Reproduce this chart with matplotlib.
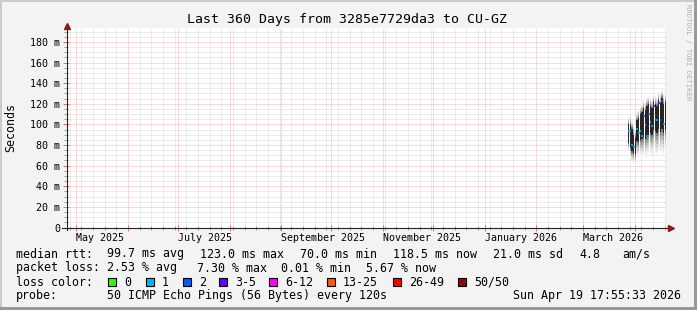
import datetime as dt
import matplotlib
matplotlib.use('Agg')
import matplotlib.pyplot as plt
import matplotlib.dates as mdates
from matplotlib.ticker import MultipleLocator, FuncFormatter
from matplotlib.patches import Rectangle

W, H = 697, 310

# graph span: last 360 days up to the render time
t_end = dt.datetime(2026, 4, 19, 17, 55, 33)
t_start = t_end - dt.timedelta(days=360)

# consolidated steps (one per day) where data exists
dates = ['2026-03-28', '2026-03-29', '2026-03-30', '2026-03-31', '2026-04-01',
         '2026-04-02', '2026-04-03', '2026-04-04', '2026-04-05', '2026-04-06',
         '2026-04-07', '2026-04-08', '2026-04-09', '2026-04-10', '2026-04-11',
         '2026-04-12', '2026-04-13', '2026-04-14', '2026-04-15', '2026-04-16',
         '2026-04-17', '2026-04-18', '2026-04-19']
# rtt in ms
ping_min = [74, 68, 64, 62, 60, 70, 68, 70, 68, 70, 68, 70, 72, 72, 70, 74, 72, 70, 74, 72, 74, 70, 72]
core_lo = [82, 78, 74, 72, 70, 84, 83, 85, 86, 88, 86, 88, 90, 92, 90, 95, 94, 92, 96, 93, 96, 92, 95]
core_hi = [100, 99, 96, 90, 88, 104, 106, 110, 112, 116, 114, 118, 120, 118, 116, 122, 120, 118, 124, 121, 126, 120, 122]
ping_max = [108, 112, 104, 100, 98, 112, 116, 118, 120, 124, 122, 126, 128, 126, 124, 130, 128, 126, 132, 130, 133, 130, 130]
median = [94, 94, 80, 78, 70, 96, 92, 94, 89, 108, 99, 89, 110, 102, 98, 118, 105, 104, 121, 104, 123, 100, 118.5]
lost = [1, 1, 1, 1, 1, 1, 1, 1, 1, 2, 1, 1, 2, 1, 1, 3, 2, 1, 3, 2, 2, 1, 3]

loss_labels = ['0', '1', '2', '3-5', '6-12', '13-25', '26-49', '50/50']
loss_colors = ['#26ff00', '#00b8ff', '#0059ff', '#6a00ff', '#ff00ff', '#ff5500', '#ff0000', '#a10000']
loss_bins = [0, 1, 2, 5, 12, 25, 49, 50]

legend_rows = [
    ('median rtt:', [('99.7 ms avg', 107), ('123.0 ms max', 200), ('70.0 ms min', 300),
                     ('118.5 ms now', 393), ('21.0 ms sd', 493), ('4.8', 579), ('am/s', 622)]),
    ('packet loss:', [('2.53 % avg', 107), ('7.30 % max', 197), ('0.01 % min', 281),
                      ('5.67 % now', 366)]),
]
probe_text = '50 ICMP Echo Pings (56 Bytes) every 120s'
stamp_text = 'Sun Apr 19 17:55:33 2026'
title = 'Last 360 Days from 3285e7729da3 to CU-GZ'

plt.rcParams['font.family'] = ['DejaVu Sans Mono']


def loss_color(n):
    for b, c in zip(loss_bins, loss_colors):
        if n <= b:
            return c
    return loss_colors[-1]


def px_text(x, y, s, **kw):
    kw.setdefault('fontsize', 8.4)
    kw.setdefault('va', 'center')
    kw.setdefault('ha', 'left')
    fig.text(x / W, 1 - y / H, s, **kw)


fig = plt.figure(figsize=(W / 100, H / 100), dpi=100)
fig.patch.set_facecolor('#f3f3f3')
ax = fig.add_axes([66 / W, (H - 227.5) / H, 600 / W, 200 / H])
ax.set_facecolor('white')

t = [dt.datetime.strptime(d, '%Y-%m-%d') for d in dates]
step = dt.timedelta(days=1)
bar_w = dt.timedelta(hours=18)

# smoke: lower tail fading in, dark core, upper tail fading out
n = 6
shades = ['#f4f4f4', '#e6e6e6', '#d4d4d4', '#bdbdbd', '#a2a2a2', '#7e7e7e']
for k in range(n):
    bottoms = [a + (b - a) * k / n for a, b in zip(ping_min, core_lo)]
    heights = [(b - a) / n for a, b in zip(ping_min, core_lo)]
    ax.bar(t, heights, bottom=bottoms, width=bar_w, align='edge', color=shades[k],
           linewidth=0, zorder=2)
ax.bar(t, [b - a for a, b in zip(core_lo, core_hi)], bottom=core_lo, width=bar_w,
       align='edge', color='#262626', linewidth=0, zorder=2)
for k in range(n):
    bottoms = [a + (b - a) * k / n for a, b in zip(core_hi, ping_max)]
    heights = [(b - a) / n for a, b in zip(core_hi, ping_max)]
    ax.bar(t, heights, bottom=bottoms, width=bar_w, align='edge', color=shades[::-1][k],
           linewidth=0, zorder=2)

# median, coloured by packet loss
ax.hlines(median, t, [x + step for x in t], colors=[loss_color(v) for v in lost],
          linewidth=1.2, zorder=3)

ax.set_xlim(t_start, t_end)
ax.set_ylim(0, 194)

ax.xaxis.set_major_locator(mdates.MonthLocator())
ax.xaxis.set_minor_locator(mdates.WeekdayLocator(byweekday=mdates.SU))
ax.xaxis.set_major_formatter(FuncFormatter(
    lambda v, p: mdates.num2date(v).strftime('%B %Y') if mdates.num2date(v).month % 2 == 1 else ''))
ax.yaxis.set_major_locator(MultipleLocator(20))
ax.yaxis.set_minor_locator(MultipleLocator(5))
ax.yaxis.set_major_formatter(FuncFormatter(lambda v, p: '0' if v == 0 else f'{v:.0f} m'))

ax.grid(which='minor', color='#dadada', linestyle=(0, (1, 1)), linewidth=0.72, zorder=1)
ax.grid(which='major', color='#f6b4b4', linestyle=(0, (1, 1)), linewidth=0.72, zorder=1)
ax.set_axisbelow(True)

ax.tick_params(which='major', direction='inout', length=4, width=0.7, color='#e07070',
               labelsize=7.2, pad=2)
ax.tick_params(which='minor', direction='inout', length=3, width=0.7, color='#a0a0a0')
for lbl in ax.get_xticklabels():
    lbl.set_ha('left')

for s in ax.spines.values():
    s.set_visible(False)

# axis lines with arrows
ax.plot([-0.006, 1.006], [0, 0], color='#202020', lw=0.8, transform=ax.transAxes, clip_on=False, zorder=4)
ax.plot([0.001, 0.001], [-0.012, 1.0], color='#202020', lw=0.8, transform=ax.transAxes, clip_on=False, zorder=4)
ax.plot([1.008], [0], marker='>', ms=4.5, color='#8b1a1a', transform=ax.transAxes, clip_on=False, zorder=5)
ax.plot([0.001], [1.01], marker='^', ms=4.5, color='#8b1a1a', transform=ax.transAxes, clip_on=False, zorder=5)

# title, axis label, watermark
px_text(347, 19, title, ha='center', fontsize=9.5)
px_text(11, 127, 'Seconds', ha='center', rotation=90)
px_text(688, 4, 'RRDTOOL / TOBI OETIKER', ha='center', va='top', rotation=270,
        fontsize=5.2, color='#b0b0b0')

# legend block
rows_y = [254, 268, 282, 296]
for (head, items), y in zip(legend_rows, rows_y):
    px_text(16, y, head)
    for s, x in items:
        px_text(x, y, s)

px_text(16, rows_y[2], 'loss color:')
box_x = [108, 146, 183, 219, 269, 327, 393, 458]
for lab, c, x in zip(loss_labels, loss_colors, box_x):
    fig.add_artist(Rectangle((x / W, 1 - (rows_y[2] + 4) / H), 8 / W, 8 / H,
                             transform=fig.transFigure, facecolor=c, edgecolor='black', lw=0.8))
    px_text(x + 16, rows_y[2], lab)

px_text(16, rows_y[3], 'probe:')
px_text(107, rows_y[3], probe_text)
px_text(513, rows_y[3], stamp_text)

# 3d frame around the image
fig.add_artist(Rectangle((0, 1 - 2 / H), 1, 2 / H, transform=fig.transFigure, color='#cbcbcb', lw=0))
fig.add_artist(Rectangle((0, 0), 2 / W, 1, transform=fig.transFigure, color='#cbcbcb', lw=0))
fig.add_artist(Rectangle((0, 0), 1, 3 / H, transform=fig.transFigure, color='#999999', lw=0))
fig.add_artist(Rectangle((1 - 3 / W, 0), 3 / W, 1, transform=fig.transFigure, color='#999999', lw=0))

fig.savefig('out.png', dpi=100, facecolor=fig.get_facecolor())
